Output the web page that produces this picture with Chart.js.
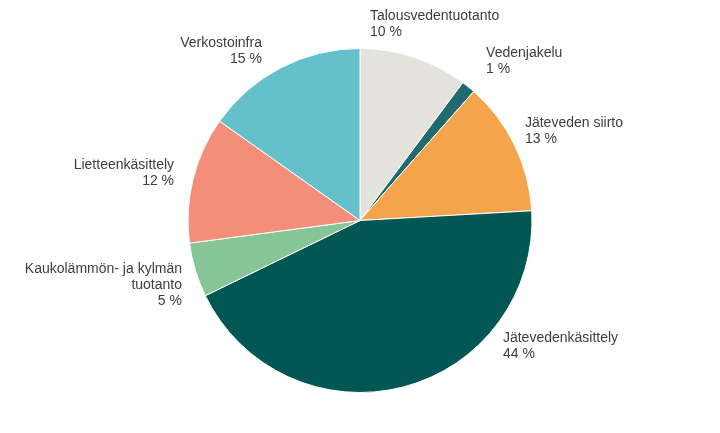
<!DOCTYPE html>
<html>
<head>
<meta charset="utf-8">
<script src="https://cdn.jsdelivr.net/npm/chart.js@4"></script>
<style>
  html, body { margin: 0; padding: 0; background: #fff; }
  #wrap { width: 720px; height: 433px; }
</style>
</head>
<body>
<div id="wrap"><canvas id="chart"></canvas></div>
<script>
// data (share of total, %)
var categories = [
    ["Talousvedentuotanto"],
    ["Vedenjakelu"],
    ["Jäteveden siirto"],
    ["Jätevedenkäsittely"],
    ["Kaukolämmön- ja kylmän", "tuotanto"],
    ["Lietteenkäsittely"],
    ["Verkostoinfra"]
];
var values = [10.2, 1.3, 12.6, 43.7, 5.1, 11.9, 15.2];
var colors = ["#e3e2dd", "#216a6f", "#f4a54c", "#005753", "#86c596", "#f28e79", "#64c0cb"];

// label placement, relative to pie centre in units of radius
var labelPos = [
    {dx: 0.058, dy: -1.166, align: "left"},
    {dx: 0.733, dy: -0.951, align: "left"},
    {dx: 0.959, dy: -0.544, align: "left"},
    {dx: 0.831, dy: 0.706, align: "left"},
    {dx: -1.035, dy: 0.305, align: "right"},
    {dx: -1.081, dy: -0.299, align: "right"},
    {dx: -0.570, dy: -1.009, align: "right"}
];

var outsideLabels = {
    id: "outsideLabels",
    afterDatasetsDraw: function(chart) {
        var ctx = chart.ctx;
        var meta = chart.getDatasetMeta(0);
        var total = values.reduce(function(a, b) { return a + b; }, 0);
        ctx.save();
        ctx.font = "14px 'Liberation Sans', Arial, sans-serif";
        ctx.fillStyle = "#3d3d3d";
        ctx.textBaseline = "alphabetic";
        meta.data.forEach(function(arc, i) {
            var r = arc.outerRadius;
            var x = arc.x + labelPos[i].dx * r;
            var y = arc.y + labelPos[i].dy * r;
            var lines = categories[i].concat([Math.round(values[i] / total * 100) + " %"]);
            ctx.textAlign = labelPos[i].align;
            lines.forEach(function(line, j) {
                ctx.fillText(line, x, y + j * 16);
            });
        });
        ctx.restore();
    }
};

new Chart(document.getElementById("chart"), {
    type: "pie",
    data: {
        labels: categories.map(function(c) { return c.join(" "); }),
        datasets: [{
            data: values,
            backgroundColor: colors,
            borderColor: "#ffffff",
            borderWidth: 1
        }]
    },
    options: {
        responsive: true,
        maintainAspectRatio: false,
        animation: false,
        layout: { padding: { top: 48, bottom: 40, left: 0, right: 0 } },
        plugins: {
            legend: { display: false },
            tooltip: { enabled: false }
        }
    },
    plugins: [outsideLabels]
});
</script>
</body>
</html>
